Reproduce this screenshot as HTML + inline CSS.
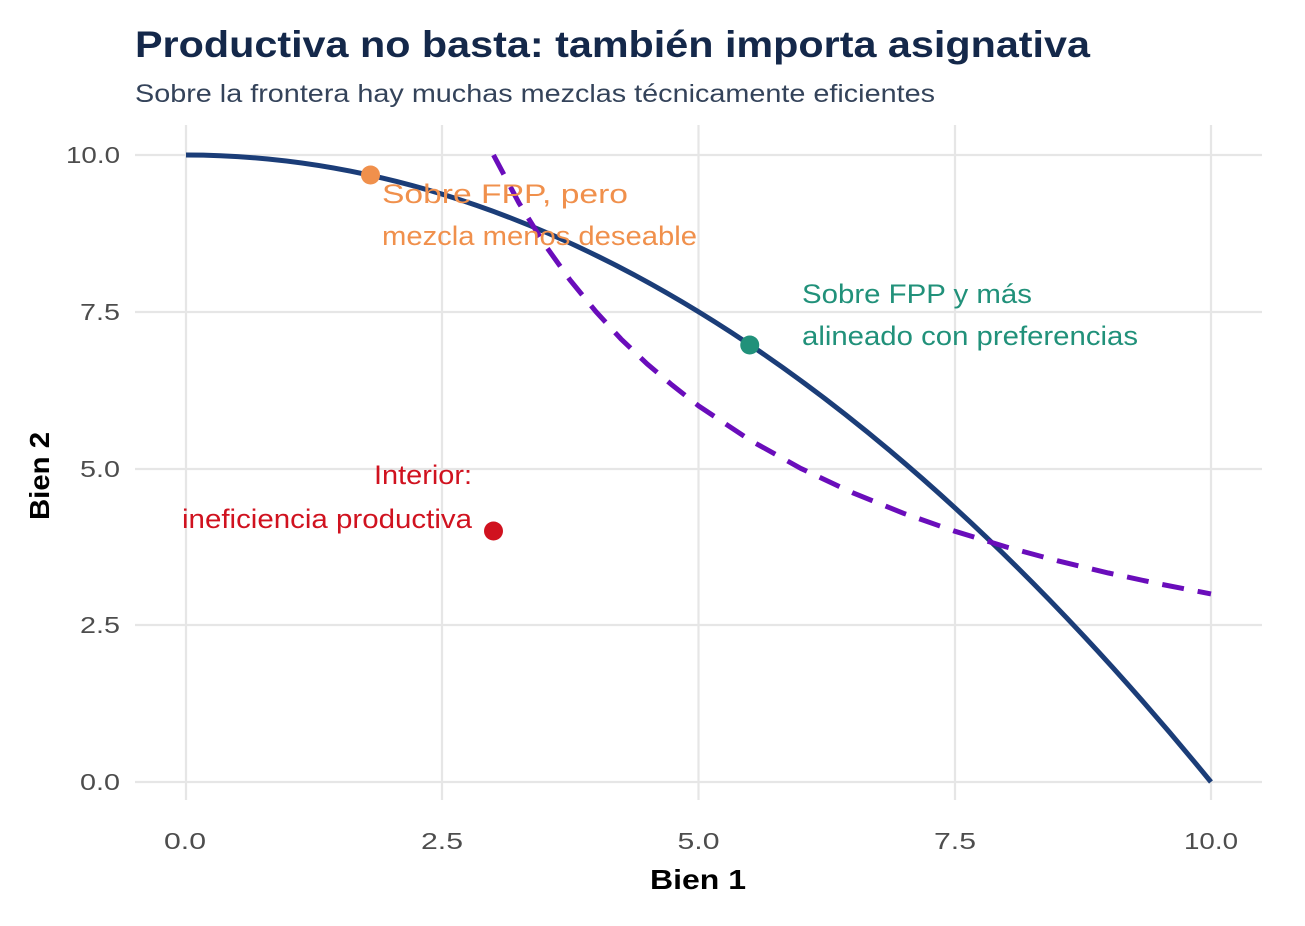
<!DOCTYPE html>
<html><head><meta charset="utf-8"><style>
body{margin:0;background:#fff;}
svg text{font-family:"Liberation Sans",Arial,sans-serif;}
</style></head><body>
<svg width="1305" height="921" xmlns="http://www.w3.org/2000/svg">
<rect width="1305" height="921" fill="#fff"/>
<text x="135" y="57" font-size="37" font-weight="bold" fill="#14284a" textLength="955" lengthAdjust="spacingAndGlyphs">Productiva no basta: también importa asignativa</text>
<text x="135" y="102" font-size="25" fill="#34435a" textLength="800" lengthAdjust="spacingAndGlyphs">Sobre la frontera hay muchas mezclas técnicamente eficientes</text>
<g stroke="#e6e6e6" stroke-width="2.2">
<line x1="186" y1="125" x2="186" y2="800"/><line x1="442" y1="125" x2="442" y2="800"/><line x1="698.5" y1="125" x2="698.5" y2="800"/><line x1="955" y1="125" x2="955" y2="800"/><line x1="1211" y1="125" x2="1211" y2="800"/>
<line x1="135" y1="155" x2="1262" y2="155"/><line x1="135" y1="312" x2="1262" y2="312"/><line x1="135" y1="469" x2="1262" y2="469"/><line x1="135" y1="625" x2="1262" y2="625"/><line x1="135" y1="782" x2="1262" y2="782"/>
</g>
<g font-size="23" fill="#4d4d4d" text-anchor="end">
<text x="120" y="163" textLength="54" lengthAdjust="spacingAndGlyphs">10.0</text><text x="120" y="320" textLength="40" lengthAdjust="spacingAndGlyphs">7.5</text><text x="120" y="477" textLength="40" lengthAdjust="spacingAndGlyphs">5.0</text><text x="120" y="633" textLength="40" lengthAdjust="spacingAndGlyphs">2.5</text><text x="120" y="790" textLength="40" lengthAdjust="spacingAndGlyphs">0.0</text>
</g>
<g font-size="23" fill="#4d4d4d" text-anchor="middle">
<text x="185" y="849" textLength="42" lengthAdjust="spacingAndGlyphs">0.0</text><text x="442" y="849" textLength="42" lengthAdjust="spacingAndGlyphs">2.5</text><text x="698.5" y="849" textLength="42" lengthAdjust="spacingAndGlyphs">5.0</text><text x="955" y="849" textLength="42" lengthAdjust="spacingAndGlyphs">7.5</text><text x="1211" y="849" textLength="54" lengthAdjust="spacingAndGlyphs">10.0</text>
</g>
<text x="698" y="889" font-size="28" font-weight="bold" text-anchor="middle" textLength="96" lengthAdjust="spacingAndGlyphs">Bien 1</text>
<text transform="translate(49,476) rotate(-90)" font-size="28" font-weight="bold" text-anchor="middle" textLength="88" lengthAdjust="spacingAndGlyphs">Bien 2</text>
<path d="M186,155 Q698.5,155 1211,782" fill="none" stroke="#1b3d78" stroke-width="5"/>
<polyline points="493.5,155 519.1,203.2 544.75,244.6 570,280 596,311.75 621,339 647.25,364 672,385 698.5,405.8 749.75,440 801,468.5 852.25,492.6 903.5,513.3 954.75,531.2 1006,546.9 1057.25,560.7 1108.5,573 1159.75,584 1211,593.9" fill="none" stroke="#6a0dbb" stroke-width="5" stroke-dasharray="22,14"/>
<circle cx="370.5" cy="175" r="9.5" fill="#f0904c"/>
<circle cx="749.75" cy="345" r="9.5" fill="#21917a"/>
<circle cx="493.5" cy="531" r="9.5" fill="#d0121f"/>
<g font-size="27" fill="#f0904c"><text x="382" y="203" textLength="246" lengthAdjust="spacingAndGlyphs">Sobre FPP, pero</text><text x="382" y="245" textLength="315" lengthAdjust="spacingAndGlyphs">mezcla menos deseable</text></g>
<g font-size="27" fill="#21917a"><text x="802" y="303" textLength="230" lengthAdjust="spacingAndGlyphs">Sobre FPP y más</text><text x="802" y="345" textLength="336" lengthAdjust="spacingAndGlyphs">alineado con preferencias</text></g>
<g font-size="27" fill="#d0121f" text-anchor="end"><text x="472" y="484" textLength="98" lengthAdjust="spacingAndGlyphs">Interior:</text><text x="472" y="528" textLength="290" lengthAdjust="spacingAndGlyphs">ineficiencia productiva</text></g>
</svg>
</body></html>
